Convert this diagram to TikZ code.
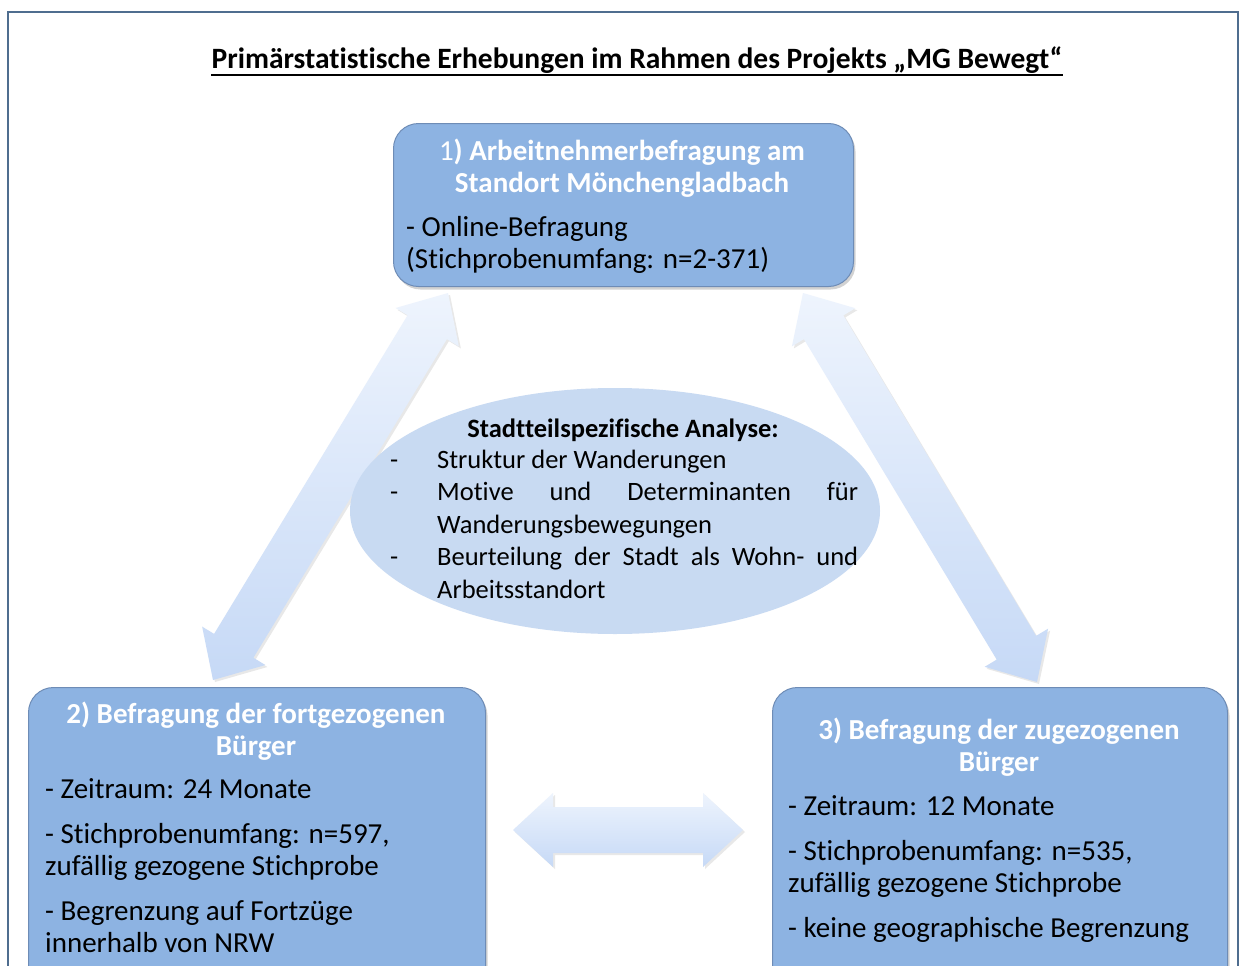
\documentclass[tikz,border=0pt]{standalone}
\usepackage{fontspec}
\setmainfont{Carlito}[Ligatures=CommonOff]
\usetikzlibrary{calc,shadows}
\definecolor{boxfill}{RGB}{141,179,226}
\definecolor{boxline}{RGB}{110,140,182}
\definecolor{framec}{RGB}{79,109,143}
\definecolor{ellfill}{RGB}{200,218,242}
\definecolor{arrtop}{RGB}{238,244,253}
\definecolor{arrbot}{RGB}{198,217,246}
\newcommand\blockarrow[2]{%
  \coordinate (#1-p) at ($(#1)!40pt!(#2)$);
  \coordinate (#1-q) at ($(#2)!40pt!(#1)$);
  \path[blockarr] (#1) -- ($(#1-p)!37pt!90:(#2)$) -- ($(#1-p)!23pt!90:(#2)$)
    -- ($(#1-q)!23pt!-90:(#1)$) -- ($(#1-q)!37pt!-90:(#1)$) -- (#2)
    -- ($(#1-q)!37pt!90:(#1)$) -- ($(#1-q)!23pt!90:(#1)$)
    -- ($(#1-p)!23pt!-90:(#2)$) -- ($(#1-p)!37pt!-90:(#2)$) -- cycle;
}
\begin{document}
\begin{tikzpicture}[x=1pt,y=-1pt,
  box/.style={draw=boxline, line width=1pt, fill=boxfill, rounded corners=25pt,
    drop shadow={opacity=.35, shadow xshift=2pt, shadow yshift=-3pt}, inner sep=0pt},
  blockarr/.style={top color=arrtop, bottom color=arrbot,
    drop shadow={opacity=.18, shadow xshift=2pt, shadow yshift=-2pt}},
  htitle/.style={inner sep=0pt, text=white, font=\fontsize{29}{32}\selectfont\bfseries},
  body/.style={inner sep=0pt, font=\fontsize{29}{32}\selectfont},
  etext/.style={inner sep=0pt, font=\fontsize{26.5}{33}\selectfont},
  ttl/.style={inner sep=0pt, font=\fontsize{29.5}{33}\selectfont\bfseries}]
\useasboundingbox (0,0) rectangle (1240,966);
\clip (0,0) rectangle (1240,966);
\fill[white] (0,0) rectangle (1240,966);
\draw[framec, line width=2pt] (8,12) rectangle (1238,1010);

% title
\node[ttl, anchor=base] (title) at (637,69) {Primärstatistische Erhebungen im Rahmen des Projekts „MG Bewegt“};
\draw[line width=2.3pt] ([yshift=-6pt]title.base west) -- ([yshift=-6pt]title.base east);

% block arrows
\coordinate (a1) at (213,680);
\coordinate (a2) at (448,293);
\coordinate (c1) at (803,293);
\coordinate (c2) at (1037,682);
\coordinate (h1) at (513,830);
\coordinate (h2) at (743,830);
\blockarrow{a1}{a2}
\blockarrow{c1}{c2}
\blockarrow{h1}{h2}

% ellipse
\fill[ellfill] (615,511) ellipse [x radius=265, y radius=123];
\node[etext, anchor=base, font=\fontsize{26.5}{33}\selectfont\bfseries] (eh) at (623,437) {Stadtteilspezifische Analyse:};
\node[etext, anchor=base west] (ed1) at (390,468) {-};
\node[etext, anchor=base west] (el1) at (437,468) {Struktur der Wanderungen};
\node[etext, anchor=base west] (ed2) at (390,500) {-};
\node[etext, anchor=base west] (el2) at (437,500) {\hbox to 421pt{Motive\hfill und\hfill Determinanten\hfill für}};
\node[etext, anchor=base west] (el3) at (437,533) {Wanderungsbewegungen};
\node[etext, anchor=base west] (ed3) at (390,565) {-};
\node[etext, anchor=base west] (el4) at (437,565) {\hbox to 421pt{Beurteilung\hfill der\hfill Stadt\hfill als\hfill Wohn-\hfill und}};
\node[etext, anchor=base west] (el5) at (437,598) {Arbeitsstandort};

% box 1
\node[box, anchor=north west, minimum width=460pt, minimum height=163pt] (b1) at (393,123) {};
\node[htitle, anchor=base] (b1t1) at (622,160) {{\mdseries 1}) Arbeitnehmerbefragung am};
\node[htitle, anchor=base] (b1t2) at (622,192) {Standort Mönchengladbach};
\node[body, anchor=base west] (b1l1) at (406,236) {- Online-Befragung};
\node[body, anchor=base west] (b1l2) at (406,268) {(Stichprobenumfang: n=2-371)};

% box 2
\node[box, anchor=north west, minimum width=457pt, minimum height=320pt] (b2) at (28,687) {};
\node[htitle, anchor=base] (b2t1) at (256,723) {2) Befragung der fortgezogenen};
\node[htitle, anchor=base] (b2t2) at (256,755) {Bürger};
\node[body, anchor=base west] (b2l1) at (45,798) {- Zeitraum: 24 Monate};
\node[body, anchor=base west] (b2l2) at (45,843) {- Stichprobenumfang: n=597,};
\node[body, anchor=base west] (b2l3) at (45,875) {zufällig gezogene Stichprobe};
\node[body, anchor=base west] (b2l4) at (45,920) {- Begrenzung auf Fortzüge};
\node[body, anchor=base west] (b2l5) at (45,952) {innerhalb von NRW};

% box 3
\node[box, anchor=north west, minimum width=455pt, minimum height=320pt] (b3) at (772,687) {};
\node[htitle, anchor=base] (b3t1) at (999,739) {3) Befragung der zugezogenen};
\node[htitle, anchor=base] (b3t2) at (999,771) {Bürger};
\node[body, anchor=base west] (b3l1) at (788,815) {- Zeitraum: 12 Monate};
\node[body, anchor=base west] (b3l2) at (788,860) {- Stichprobenumfang: n=535,};
\node[body, anchor=base west] (b3l3) at (788,892) {zufällig gezogene Stichprobe};
\node[body, anchor=base west] (b3l4) at (788,937) {- keine geographische Begrenzung};
\end{tikzpicture}
\end{document}
